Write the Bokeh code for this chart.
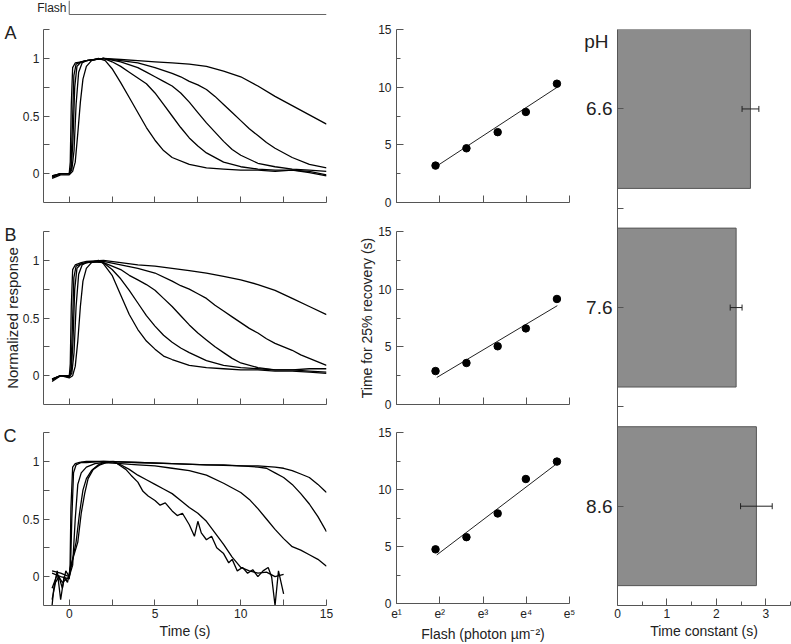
import numpy as np
from bokeh.plotting import figure
from bokeh.models import Range1d, FixedTicker, ColumnDataSource, Whisker, TeeHead, LinearAxis
from bokeh.layouts import row, column
from bokeh.embed import file_html
from bokeh.resources import INLINE

FONT = "Liberation Sans"
AXC = "#555555"
TXC = "#222222"

# ---------------- data: normalized responses (time in s) ----------------
flash_time = 0.0
t_end = 15.0

A1_t = [-1.0, -0.5, 0.0, 0.2, 0.35, 0.5, 0.65, 0.8, 1.0, 1.3, 1.7, 2.1, 2.5, 3.0, 3.5, 4.0, 4.5, 5.0, 5.5, 6.0, 7.0, 8.0, 9.0, 10.0, 11.0, 12.0, 13.0, 14.0, 15.0]
A1_y = [-0.04, -0.01, -0.01, 0.02, 0.10, 0.35, 0.62, 0.82, 0.93, 0.98, 1.00, 0.98, 0.91, 0.79, 0.66, 0.53, 0.40, 0.29, 0.20, 0.14, 0.08, 0.05, 0.04, 0.03, 0.03, 0.02, 0.03, 0.01, -0.02]
A2_t = [-1.0, -0.5, 0.0, 0.15, 0.28, 0.4, 0.55, 0.75, 1.0, 1.5, 2.0, 2.5, 3.0, 3.5, 4.0, 4.5, 5.0, 5.5, 6.0, 6.5, 7.0, 7.5, 8.0, 9.0, 10.0, 11.0, 12.0, 13.0, 14.0, 15.0]
A2_y = [-0.03, 0.00, 0.00, 0.03, 0.20, 0.60, 0.88, 0.96, 0.98, 0.99, 1.00, 0.97, 0.93, 0.88, 0.83, 0.78, 0.70, 0.60, 0.50, 0.40, 0.31, 0.24, 0.18, 0.10, 0.06, 0.04, 0.03, 0.03, 0.02, -0.01]
A3_t = [-1.0, -0.5, 0.0, 0.12, 0.22, 0.32, 0.45, 0.7, 1.0, 1.5, 2.0, 3.0, 4.0, 4.5, 5.0, 5.5, 6.0, 6.5, 7.0, 7.5, 8.0, 8.5, 9.0, 9.5, 10.0, 11.0, 12.0, 13.0, 14.0, 15.0]
A3_y = [-0.02, 0.00, 0.00, 0.04, 0.30, 0.75, 0.93, 0.97, 0.98, 0.99, 1.00, 0.97, 0.92, 0.88, 0.84, 0.80, 0.76, 0.70, 0.62, 0.53, 0.44, 0.36, 0.28, 0.21, 0.16, 0.09, 0.06, 0.04, 0.03, 0.02]
A4_t = [-1.0, -0.5, 0.0, 0.1, 0.18, 0.27, 0.4, 0.7, 1.0, 2.0, 3.0, 4.0, 5.0, 6.0, 6.5, 7.0, 7.5, 8.0, 8.5, 9.0, 9.5, 10.0, 10.5, 11.0, 11.5, 12.0, 13.0, 14.0, 15.0]
A4_y = [-0.02, 0.00, 0.00, 0.05, 0.40, 0.85, 0.95, 0.97, 0.98, 1.00, 0.98, 0.96, 0.92, 0.87, 0.84, 0.80, 0.77, 0.73, 0.67, 0.60, 0.53, 0.46, 0.39, 0.33, 0.27, 0.22, 0.14, 0.08, 0.05]
A5_t = [-1.0, -0.5, 0.0, 0.06, 0.12, 0.2, 0.35, 0.7, 1.0, 2.0, 3.0, 4.0, 5.0, 6.0, 7.0, 8.0, 9.0, 10.0, 11.0, 12.0, 13.0, 14.0, 15.0]
A5_y = [-0.03, 0.00, 0.00, 0.10, 0.60, 0.92, 0.96, 0.97, 0.98, 1.00, 0.99, 0.98, 0.97, 0.96, 0.95, 0.93, 0.89, 0.84, 0.76, 0.67, 0.59, 0.51, 0.43]

B1_t = [-1.0, -0.5, 0.0, 0.2, 0.35, 0.5, 0.65, 0.8, 1.0, 1.3, 1.7, 2.0, 2.5, 3.0, 3.5, 4.0, 4.5, 5.0, 5.5, 6.0, 7.0, 8.0, 9.0, 10.0, 11.0, 12.0, 13.0, 14.0, 15.0]
B1_y = [-0.05, 0.00, -0.02, 0.00, 0.08, 0.30, 0.60, 0.82, 0.93, 0.98, 1.00, 0.97, 0.87, 0.70, 0.53, 0.40, 0.30, 0.23, 0.17, 0.14, 0.09, 0.07, 0.06, 0.05, 0.05, 0.04, 0.04, 0.03, 0.02]
B2_t = [-1.0, -0.5, 0.0, 0.15, 0.28, 0.4, 0.55, 0.75, 1.0, 1.5, 2.0, 2.5, 3.0, 3.5, 4.0, 4.5, 5.0, 5.5, 6.0, 6.5, 7.0, 8.0, 9.0, 10.0, 11.0, 12.0, 13.0, 14.0, 15.0]
B2_y = [-0.04, 0.00, -0.01, 0.02, 0.20, 0.60, 0.88, 0.96, 0.98, 0.99, 0.98, 0.92, 0.84, 0.74, 0.63, 0.52, 0.43, 0.35, 0.29, 0.24, 0.20, 0.13, 0.09, 0.07, 0.06, 0.05, 0.05, 0.04, 0.03]
B3_t = [-1.0, -0.5, 0.0, 0.12, 0.22, 0.32, 0.45, 0.7, 1.0, 1.5, 2.0, 2.5, 3.0, 3.5, 4.0, 4.5, 5.0, 5.5, 6.0, 6.5, 7.0, 7.5, 8.0, 8.5, 9.0, 9.5, 10.0, 11.0, 12.0, 13.0, 14.0, 15.0]
B3_y = [-0.03, 0.00, -0.01, 0.04, 0.30, 0.75, 0.93, 0.97, 0.98, 0.99, 0.98, 0.95, 0.92, 0.87, 0.83, 0.79, 0.74, 0.67, 0.60, 0.52, 0.44, 0.37, 0.31, 0.25, 0.20, 0.15, 0.11, 0.07, 0.05, 0.05, 0.06, 0.06]
B4_t = [-1.0, -0.5, 0.0, 0.1, 0.18, 0.27, 0.4, 0.7, 1.0, 2.0, 3.0, 4.0, 5.0, 6.0, 6.5, 7.0, 7.5, 8.0, 8.5, 9.0, 9.5, 10.0, 10.5, 11.0, 11.5, 12.0, 12.5, 13.0, 13.5, 14.0, 14.5, 15.0]
B4_y = [-0.03, 0.00, 0.00, 0.05, 0.40, 0.85, 0.95, 0.97, 0.98, 0.99, 0.96, 0.93, 0.89, 0.82, 0.78, 0.75, 0.71, 0.67, 0.61, 0.56, 0.51, 0.46, 0.41, 0.37, 0.32, 0.28, 0.25, 0.22, 0.18, 0.15, 0.12, 0.09]
B5_t = [-1.0, -0.5, 0.0, 0.06, 0.12, 0.2, 0.35, 0.7, 1.0, 2.0, 3.0, 4.0, 5.0, 6.0, 7.0, 8.0, 9.0, 10.0, 11.0, 12.0, 13.0, 14.0, 15.0]
B5_y = [-0.03, 0.00, -0.01, 0.10, 0.60, 0.92, 0.96, 0.98, 0.99, 1.00, 0.98, 0.96, 0.95, 0.93, 0.91, 0.89, 0.86, 0.83, 0.79, 0.74, 0.67, 0.60, 0.53]

C1_t = [-1.0, -0.9, -0.7, -0.5, -0.3, -0.1, 0.1, 0.3, 0.5, 0.7, 0.9, 1.1, 1.4, 1.8, 2.2, 2.6, 3.0, 3.3, 3.6, 4.0, 4.3, 4.6, 5.0, 5.3, 5.6, 6.0, 6.3, 6.6, 7.0, 7.3, 7.5, 7.7, 8.0, 8.3, 8.6, 9.0, 9.3, 9.5, 9.8, 10.1, 10.4, 10.7, 11.0, 11.3, 11.6, 11.8, 12.0, 12.2, 12.5]
C1_y = [-0.25, -0.10, 0.05, -0.20, 0.00, -0.05, 0.10, 0.20, 0.30, 0.55, 0.72, 0.85, 0.93, 0.97, 0.99, 1.00, 0.96, 0.93, 0.88, 0.82, 0.74, 0.70, 0.66, 0.62, 0.64, 0.57, 0.53, 0.55, 0.45, 0.35, 0.48, 0.38, 0.32, 0.35, 0.25, 0.20, 0.12, 0.15, 0.05, 0.08, 0.03, 0.06, 0.00, 0.05, 0.08, 0.00, -0.25, 0.05, -0.15]
C2_t = [-1.0, -0.8, -0.6, -0.4, -0.2, 0.0, 0.2, 0.4, 0.6, 0.8, 1.0, 1.3, 1.7, 2.0, 2.5, 3.0, 3.5, 4.0, 4.5, 5.0, 5.5, 6.0, 6.5, 7.0, 7.5, 8.0, 8.5, 9.0, 9.5, 10.0, 10.5, 11.0, 11.5, 12.0, 12.5]
C2_y = [-0.20, -0.05, 0.00, -0.10, 0.05, 0.00, 0.15, 0.30, 0.55, 0.75, 0.85, 0.92, 0.97, 0.99, 1.00, 0.97, 0.93, 0.88, 0.84, 0.80, 0.76, 0.72, 0.66, 0.60, 0.55, 0.48, 0.38, 0.28, 0.17, 0.08, 0.05, 0.03, 0.04, 0.00, 0.02]
C3_t = [-1.0, -0.7, -0.4, 0.0, 0.2, 0.35, 0.5, 0.7, 1.0, 1.5, 2.0, 3.0, 4.0, 5.0, 6.0, 7.0, 8.0, 9.0, 10.0, 10.5, 11.0, 11.5, 12.0, 12.5, 13.0, 13.5, 14.0, 14.5, 15.0]
C3_y = [-0.10, 0.02, -0.05, 0.00, 0.10, 0.50, 0.80, 0.90, 0.95, 0.98, 0.99, 0.98, 0.97, 0.96, 0.94, 0.92, 0.88, 0.81, 0.73, 0.67, 0.59, 0.50, 0.41, 0.33, 0.26, 0.23, 0.19, 0.15, 0.09]
C4_t = [-1.0, -0.5, 0.0, 0.08, 0.15, 0.25, 0.4, 0.7, 1.0, 2.0, 4.0, 6.0, 8.0, 9.0, 10.0, 11.0, 11.5, 12.0, 12.5, 13.0, 13.5, 14.0, 14.5, 15.0]
C4_y = [0.03, 0.00, -0.02, 0.10, 0.50, 0.90, 0.97, 0.99, 0.99, 1.00, 0.99, 0.98, 0.97, 0.97, 0.96, 0.95, 0.94, 0.90, 0.86, 0.80, 0.72, 0.63, 0.52, 0.39]
C5_t = [-1.0, -0.5, 0.0, 0.05, 0.1, 0.2, 0.35, 0.6, 1.0, 2.0, 4.0, 6.0, 8.0, 10.0, 11.0, 12.0, 12.5, 13.0, 13.5, 14.0, 14.5, 15.0]
C5_y = [0.05, 0.03, 0.00, 0.10, 0.60, 0.95, 0.98, 0.99, 1.00, 1.00, 0.99, 0.98, 0.97, 0.96, 0.96, 0.95, 0.94, 0.92, 0.89, 0.86, 0.80, 0.73]

# ---------------- data: time for 25% recovery vs flash ----------------
flash = [6.7, 13.7, 28.2, 54.1, 111.0]          # photon um^-2
recA = [3.2, 4.7, 6.1, 7.85, 10.3]
recB = [2.9, 3.6, 5.05, 6.6, 9.15]
recC = [4.75, 5.82, 7.9, 10.92, 12.45]
fit_flash = [6.9, 112.0]
fitA = [3.16, 10.0]
fitB = [2.34, 8.57]
fitC = [4.26, 12.3]
e_ticks = [1, 2, 3, 4, 5]
e_labels = ["e\u00b9", "e\u00b2", "e\u00b3", "e\u2074", "e\u2075"]

# ---------------- data: time constants ----------------
ph = ["6.6", "7.6", "8.6"]
tau = [2.69, 2.40, 2.81]
tau_err = [0.17, 0.12, 0.32]

# ---------------- layout constants (pixels) ----------------
COL1_W = 345
T_LEFT = 40
T_RIGHT = 19


def style(p, tick_font="12px"):
    p.xgrid.visible = False
    p.ygrid.visible = False
    p.outline_line_color = None
    p.background_fill_color = "white"
    p.border_fill_color = "white"
    for ax in p.axis:
        ax.axis_line_color = AXC
        ax.major_tick_line_color = AXC
        ax.minor_tick_line_color = AXC
        ax.major_tick_in = 6
        ax.major_tick_out = 0
        ax.minor_tick_in = 6
        ax.minor_tick_out = 0
        ax.major_label_text_font = FONT
        ax.major_label_text_font_size = tick_font
        ax.major_label_text_color = TXC
        ax.major_label_standoff = 4
        ax.axis_label_text_font = FONT
        ax.axis_label_text_font_style = "normal"
        ax.axis_label_text_font_size = "14px"
        ax.axis_label_text_color = TXC
        ax.axis_label_standoff = 2


def hide_labels(ax):
    ax.major_label_text_color = None
    ax.major_label_text_font_size = "1px"


def text_axis(y, text, standoff, size):
    """A bare axis (no line, no tick marks) that only places one text beside the frame."""
    return LinearAxis(ticker=FixedTicker(ticks=[y], minor_ticks=[]),
                      major_label_overrides={y: text},
                      axis_line_color=None, major_tick_line_color=None, minor_tick_line_color=None,
                      major_tick_in=0, major_tick_out=0, minor_tick_in=0, minor_tick_out=0,
                      major_label_standoff=standoff, major_label_text_font=FONT,
                      major_label_text_font_size=size, major_label_text_color=TXC)


# ---------------- flash marker ----------------
pf = figure(width=COL1_W, height=16, x_range=Range1d(-1.5, 15), y_range=Range1d(0, 16),
            min_border_left=T_LEFT, min_border_right=T_RIGHT, min_border_top=0, min_border_bottom=0,
            x_axis_type=None, y_axis_location=None, output_backend="svg", toolbar_location=None)
pf.xgrid.visible = False
pf.ygrid.visible = False
pf.outline_line_color = None
pf.line([flash_time, flash_time, t_end], [16, 2, 2], line_color="#666666", line_width=1)
pf.add_layout(text_axis(9.5, "Flash", -23, "12px"), "left")


def time_fig(traces, letter, h, top, bottom, show_x, ylabel=None):
    p = figure(width=COL1_W, height=h, x_range=Range1d(-1.5, 15), y_range=Range1d(-0.25, 1.25),
               min_border_left=T_LEFT, min_border_right=T_RIGHT, min_border_top=top,
               min_border_bottom=bottom, output_backend="svg", toolbar_location=None)
    style(p)
    p.xaxis.ticker = FixedTicker(ticks=[0, 5, 10, 15], minor_ticks=[2.5, 7.5, 12.5])
    p.yaxis.ticker = FixedTicker(ticks=[0, 0.5, 1], minor_ticks=[0.25, 0.75, 1.25])
    p.yaxis.major_label_overrides = {0: "0", 0.5: "0.5", 1: "1"}
    if show_x:
        p.xaxis.axis_label = "Time (s)"
        p.xaxis.major_label_standoff = 3
    else:
        hide_labels(p.xaxis[0])
    for t, y in traces:
        p.line(t, y, line_color="black", line_width=1.3)
    p.add_layout(text_axis(1.22, letter, 3, "18px"), "left")
    if ylabel:
        yl = LinearAxis(ticker=FixedTicker(ticks=[], minor_ticks=[]), axis_line_color=None,
                        major_tick_line_color=None, minor_tick_line_color=None,
                        major_tick_in=0, major_tick_out=0, minor_tick_in=0, minor_tick_out=0,
                        axis_label=ylabel, axis_label_standoff=-19, axis_label_text_font=FONT,
                        axis_label_text_font_style="normal", axis_label_text_font_size="15px",
                        axis_label_text_color=TXC)
        p.add_layout(yl, "left")
    return p


pA = time_fig([(A1_t, A1_y), (A2_t, A2_y), (A3_t, A3_y), (A4_t, A4_y), (A5_t, A5_y)], "A", 200, 13, 14, False)
pB = time_fig([(B1_t, B1_y), (B2_t, B2_y), (B3_t, B3_y), (B4_t, B4_y), (B5_t, B5_y)], "B", 202, 15, 14, False,
              ylabel="Normalized response")
pC = time_fig([(C1_t, C1_y), (C2_t, C2_y), (C3_t, C3_y), (C4_t, C4_y), (C5_t, C5_y)], "C", 226, 14, 39, True)


def scat_fig(rec, fit, h, top, bottom, show_x, ylabel=None):
    p = figure(width=236, height=h, x_range=Range1d(1, 5), y_range=Range1d(0, 15),
               min_border_left=51, min_border_right=12, min_border_top=top, min_border_bottom=bottom,
               output_backend="svg", toolbar_location=None)
    style(p)
    p.xaxis.ticker = FixedTicker(ticks=e_ticks)
    p.xaxis.major_tick_in = 7
    p.yaxis.ticker = FixedTicker(ticks=[0, 5, 10, 15], minor_ticks=[2.5, 7.5, 12.5])
    p.yaxis.major_tick_in = 7
    p.yaxis.minor_tick_in = 4
    p.yaxis.major_label_standoff = 5
    if ylabel:
        p.yaxis.axis_label = ylabel
        p.yaxis.axis_label_standoff = 0
    if show_x:
        p.xaxis.major_label_overrides = dict(zip(e_ticks, e_labels))
        p.xaxis.axis_label = "Flash (photon \u00b5m\u207b\u00b2)"
        p.xaxis.major_label_standoff = 3
    else:
        hide_labels(p.xaxis[0])
    p.line(np.log(fit_flash), fit, line_color="#222222", line_width=1)
    p.scatter(np.log(flash), rec, size=7.5, color="black")
    return p


sA = scat_fig(recA, fitA, 216, 29, 14, False)
sB = scat_fig(recB, fitB, 202, 15, 14, False, ylabel="Time for 25% recovery (s)")
sC = scat_fig(recC, fitC, 226, 14, 39, True)

# ---------------- bar chart ----------------
ypos = [len(ph) - 0.5 - i for i in range(len(ph))]
src = ColumnDataSource(dict(y=ypos, tau=tau,
                            lo=[a - b for a, b in zip(tau, tau_err)],
                            hi=[a + b for a, b in zip(tau, tau_err)]))
Y_TOP = 2.9
BAR_TOP, BAR_BOTTOM, BAR_H = 29, 39, 644
pbar = figure(width=210, height=BAR_H, x_range=Range1d(0, 3.5), y_range=Range1d(0, Y_TOP),
              min_border_left=36, min_border_right=1, min_border_top=BAR_TOP, min_border_bottom=BAR_BOTTOM,
              output_backend="svg", toolbar_location=None)
style(pbar)
pbar.hbar(y="y", left=0, right="tau", height=0.8, source=src,
          fill_color="#8c8c8c", line_color="#555555", line_width=1)
pbar.add_layout(Whisker(source=src, base="y", lower="lo", upper="hi", dimension="width",
                        level="annotation", line_color="#222222", line_width=1,
                        lower_head=TeeHead(size=6, line_color="#222222", line_width=1),
                        upper_head=TeeHead(size=6, line_color="#222222", line_width=1)))
pbar.xaxis.ticker = FixedTicker(ticks=[0, 1, 2, 3], minor_ticks=[0.5, 1.5, 2.5, 3.5])
pbar.xaxis.major_tick_in = 7
pbar.xaxis.minor_tick_in = 4
pbar.xaxis.axis_label = "Time constant (s)"
pbar.xaxis.major_label_standoff = 3
pbar.yaxis.ticker = FixedTicker(ticks=ypos, minor_ticks=[1.0, 2.0])
pbar.yaxis.major_label_overrides = dict(zip(ypos, ph))
pbar.yaxis.major_label_text_font_size = "19px"
pbar.yaxis.major_label_standoff = 5
ph_y = Y_TOP - 12 / (BAR_H - BAR_TOP - BAR_BOTTOM) * Y_TOP
pbar.add_layout(text_axis(ph_y, "pH", -25, "19px"), "left")

layout = row(column(pf, pA, pB, pC), column(sA, sB, sC), pbar)

open("out.html", "w").write(file_html(layout, INLINE))
